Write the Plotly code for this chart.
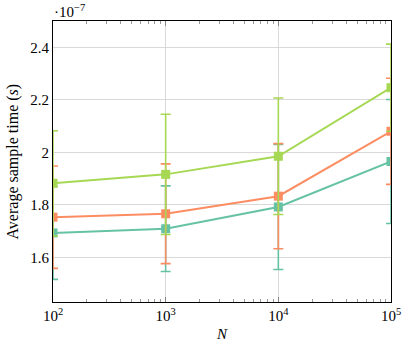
import plotly.graph_objects as go

n_values = [1e2, 1e3, 1e4, 1e5]

teal_mean = [1.693, 1.709, 1.792, 1.965]
teal_err = [0.177, 0.163, 0.238, 0.236]
orange_mean = [1.753, 1.766, 1.833, 2.080]
orange_err = [0.195, 0.190, 0.200, 0.202]
green_mean = [1.882, 1.916, 1.985, 2.246]
green_err = [0.200, 0.229, 0.222, 0.166]

series = [
    ("teal", teal_mean, teal_err, "#66c2a5"),
    ("orange", orange_mean, orange_err, "#fc8d62"),
    ("green", green_mean, green_err, "#a6d854"),
]

x_tickvals = [1e2, 1e3, 1e4, 1e5]
x_ticktext = ["10<sup>2</sup>", "10<sup>3</sup>", "10<sup>4</sup>", "10<sup>5</sup>"]
y_tickvals = [1.6, 1.8, 2.0, 2.2, 2.4]
y_ticktext = ["1.6", "1.8", "2", "2.2", "2.4"]

FONT = "Liberation Serif"

fig = go.Figure()
for name, mean, err, color in series:
    fig.add_trace(
        go.Scatter(
            x=n_values,
            y=mean,
            name=name,
            mode="lines+markers",
            line={"color": color, "width": 2},
            marker={"symbol": "square", "size": 9, "color": color},
            error_y={
                "type": "data",
                "array": err,
                "color": color,
                "thickness": 1.6,
                "width": 5,
            },
            showlegend=False,
        )
    )

fig.update_layout(
    width=407,
    height=345,
    margin={"l": 53, "r": 16, "t": 21, "b": 43},
    paper_bgcolor="white",
    plot_bgcolor="white",
    font={"family": FONT, "size": 15, "color": "black"},
    xaxis={
        "type": "log",
        "range": [2, 5],
        "tickvals": x_tickvals,
        "ticktext": x_ticktext,
        "showgrid": True,
        "gridcolor": "#d9d9d9",
        "gridwidth": 1,
        "showline": True,
        "linecolor": "black",
        "linewidth": 1,
        "mirror": "ticks",
        "ticks": "inside",
        "ticklen": 5,
        "tickcolor": "#888",
        "minor": {"ticks": "inside", "ticklen": 3, "tickcolor": "#999", "dtick": "D1", "showgrid": False},
        "zeroline": False,
        "automargin": False,
        "title": {"text": "<i>N</i>", "standoff": 5, "font": {"size": 15}},
        "tickfont": {"size": 15},
    },
    yaxis={
        "range": [1.43, 2.5],
        "tickvals": y_tickvals,
        "ticktext": y_ticktext,
        "showgrid": True,
        "gridcolor": "#d9d9d9",
        "gridwidth": 1,
        "showline": True,
        "linecolor": "black",
        "linewidth": 1,
        "mirror": True,
        "ticks": "",
        "zeroline": False,
        "automargin": False,
        "tickfont": {"size": 15},
    },
)

# y title placed by hand so it sits where the reference has it
fig.add_annotation(
    x=0, y=0.5, xref="paper", yref="paper",
    xanchor="center", yanchor="middle", xshift=-41,
    text="Average sample time (<i>s</i>)", textangle=-90, showarrow=False,
    font={"family": FONT, "size": 16},
)

fig.add_annotation(
    x=0, y=1, xref="paper", yref="paper",
    xanchor="left", yanchor="bottom",
    text="·10<sup>−7</sup>", showarrow=False,
    font={"family": FONT, "size": 15}, xshift=-1, yshift=-1,
)

# the page's default body margin would shift the figure by 8px
fig.write_html(
    "out.html",
    config={"displayModeBar": False},
    post_script="document.body.style.margin = '0';",
)
